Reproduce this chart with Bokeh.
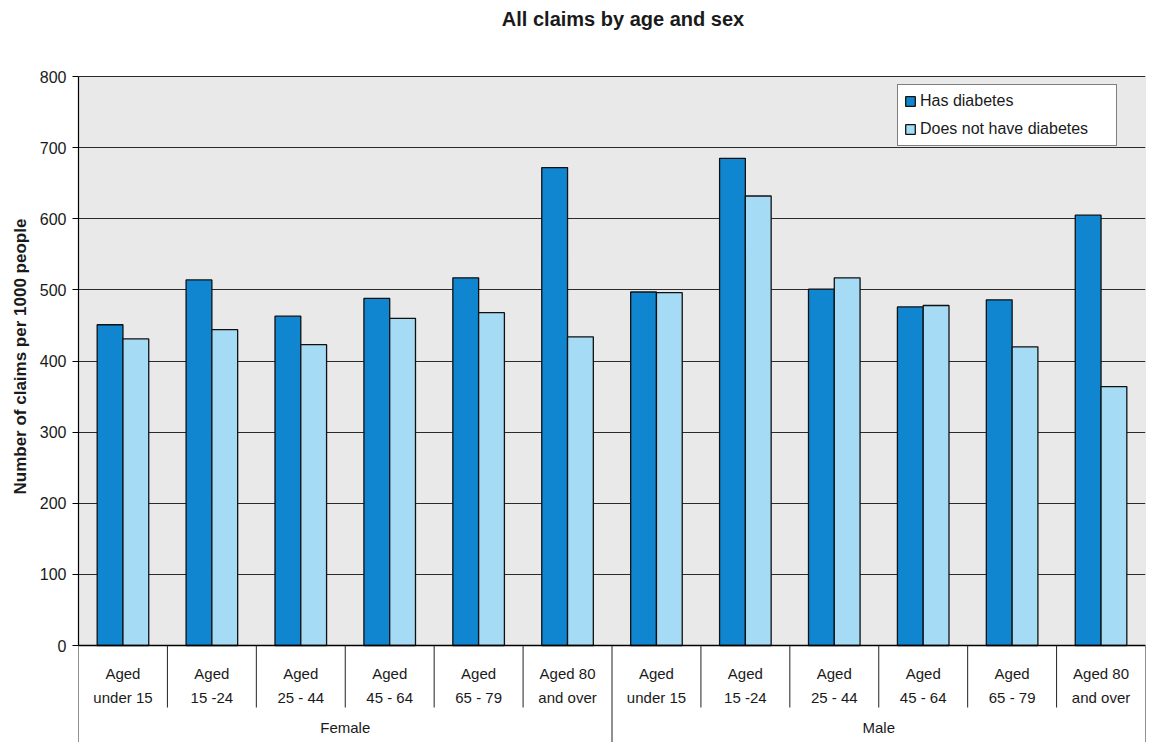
from bokeh.plotting import figure
from bokeh.models import (ColumnDataSource, FactorRange, Range1d, Legend, LegendItem,
                          FixedTicker, BoxAnnotation, Title)
from bokeh.transform import dodge
from bokeh.core.properties import value
from bokeh.embed import file_html
from bokeh.resources import INLINE

# ---------------- data ----------------
sexes = ["Female", "Male"]
age_groups = ["Aged under 15", "Aged 15 -24", "Aged 25 - 44",
              "Aged 45 - 64", "Aged 65 - 79", "Aged 80 and over"]
age_labels = ["Aged\nunder 15", "Aged\n15 -24", "Aged\n25 - 44",
              "Aged\n45 - 64", "Aged\n65 - 79", "Aged 80\nand over"]
female_has = [451, 514, 463, 488, 517, 672]
female_not = [431, 444, 423, 460, 468, 434]
male_has = [497, 685, 501, 476, 486, 605]
male_not = [496, 632, 517, 478, 420, 364]
series_names = ["Has diabetes", "Does not have diabetes"]
y_ticks = [0, 100, 200, 300, 400, 500, 600, 700, 800]
title_text = "All claims by age and sex"
y_title = "Number of claims per 1000 people"

DARK = "#0f86cf"
LIGHT = "#a6dbf6"
FONT = "Liberation Sans"
TXT = "#1a1a1a"

# layout constants (pixels)
W, H = 1154, 742
LEFT, RIGHT, TOP, PLOT_H, PANEL_H = 78, 9, 76, 569, 97
Y_MIN = -800 * PANEL_H / PLOT_H
Y_MAX = 800 + 800 * TOP / PLOT_H

factors = [(s, a) for s in sexes for a in age_groups]
src = ColumnDataSource(dict(
    x=factors,
    has=female_has + male_has,
    no=female_not + male_not,
))

x_range = FactorRange(*factors, range_padding=0, group_padding=0,
                      factor_padding=0, subgroup_padding=0)

p = figure(width=W, height=H, x_range=x_range, y_range=Range1d(Y_MIN, Y_MAX),
           output_backend="svg", toolbar_location=None,
           min_border_left=LEFT, min_border_right=RIGHT, min_border_top=0,
           min_border_bottom=0)
# y in pixels below the baseline (negative = above)
p.extra_y_ranges = {"px": Range1d(PANEL_H, -(PLOT_H + TOP))}
p.background_fill_color = "white"
p.border_fill_color = "white"
p.outline_line_color = None

# grey plot area
p.add_layout(BoxAnnotation(bottom=0, top=800, fill_color="#e9e9ea", fill_alpha=1,
                           line_color="#808080", line_width=1, level="image"))

r1 = p.vbar(x=dodge("x", -0.145, range=x_range), top="has", width=0.29, source=src,
            fill_color=DARK, line_color="#111111", line_width=1.3)
r2 = p.vbar(x=dodge("x", 0.145, range=x_range), top="no", width=0.29, source=src,
            fill_color=LIGHT, line_color="#111111", line_width=1.3)

p.xaxis.visible = False
p.xgrid.visible = False
p.ygrid.ticker = FixedTicker(ticks=y_ticks)
p.ygrid.grid_line_color = "#2b2b2b"
p.ygrid.grid_line_width = 1.2

ya = p.yaxis[0]
ya.ticker = FixedTicker(ticks=y_ticks)
ya.bounds = (0, 800)
ya.axis_line_color = "black"
ya.axis_line_width = 1.2
ya.major_tick_line_color = "black"
ya.major_tick_out = 6
ya.major_tick_in = 0
ya.minor_tick_line_color = None
ya.major_label_text_font = FONT
ya.major_label_text_font_size = "16px"
ya.major_label_text_color = TXT
ya.major_label_standoff = 6

# y-axis title as a left-side title, placed alongside 0..800
p.add_layout(Title(text=y_title, align="left", offset=248, standoff=14,
                   text_font=FONT, text_font_size="17px", text_font_style="bold",
                   text_color=TXT), "left")

# chart title (drawn as text in pixel units above the plot area)
p.text(x=dodge("x", -0.376, range=x_range), y=-(PLOT_H + TOP - 18), text="t",
       y_range_name="px",
       source=ColumnDataSource(dict(x=[(sexes[1], age_groups[0])], t=[title_text])),
       text_font=value(FONT), text_font_size="20px", text_font_style="bold",
       text_color=TXT, text_align="center", text_baseline="middle")

legend = Legend(items=[LegendItem(label=series_names[0], renderers=[r1]),
                       LegendItem(label=series_names[1], renderers=[r2])])
legend.location = (897 - LEFT, H - 146)
legend.label_text_font = FONT
legend.label_text_font_size = "16px"
legend.label_text_color = TXT
legend.glyph_width = 12
legend.glyph_height = 12
legend.label_standoff = 4
legend.label_height = 20
legend.label_width = 190
legend.spacing = 8
legend.padding = 6
legend.margin = 0
legend.border_line_color = "black"
legend.border_line_width = 1
legend.background_fill_color = "white"
legend.background_fill_alpha = 1
p.add_layout(legend)

# ---------------- category axis panel ----------------
first, last = factors[0], factors[-1]
line_kw = dict(y_range_name="px", line_color="#222222", line_width=1)

p.segment(x0=dodge("a", -0.5, range=x_range), x1=dodge("b", 0.5, range=x_range),
          y0=0, y1=0, source=ColumnDataSource(dict(a=[first], b=[last])),
          y_range_name="px", line_color="black", line_width=1.4)

inner = [f for f in factors if f[1] != age_groups[0]]
p.segment(x0=dodge("f", -0.5, range=x_range), x1=dodge("f", -0.5, range=x_range),
          y0=0, y1=62, source=ColumnDataSource(dict(f=inner)), **line_kw)
starts = [f for f in factors if f[1] == age_groups[0]]
p.segment(x0=dodge("f", -0.5, range=x_range), x1=dodge("f", -0.5, range=x_range),
          y0=0, y1=PANEL_H, source=ColumnDataSource(dict(f=starts)), **line_kw)
p.segment(x0=dodge("f", 0.5, range=x_range), x1=dodge("f", 0.5, range=x_range),
          y0=0, y1=PANEL_H, source=ColumnDataSource(dict(f=[last])), **line_kw)

p.text(x="x", y=40, text="t", y_range_name="px",
       source=ColumnDataSource(dict(x=factors, t=age_labels * len(sexes))),
       text_font=value(FONT), text_font_size="15px", text_color=TXT,
       text_align="center", text_baseline="middle", text_line_height=1.4)
p.text(x="x", y=82, text="x", y_range_name="px", source=ColumnDataSource(dict(x=sexes)),
       text_font=value(FONT), text_font_size="15px", text_color=TXT,
       text_align="center", text_baseline="middle")

open("out.html", "w").write(file_html(p, INLINE))
